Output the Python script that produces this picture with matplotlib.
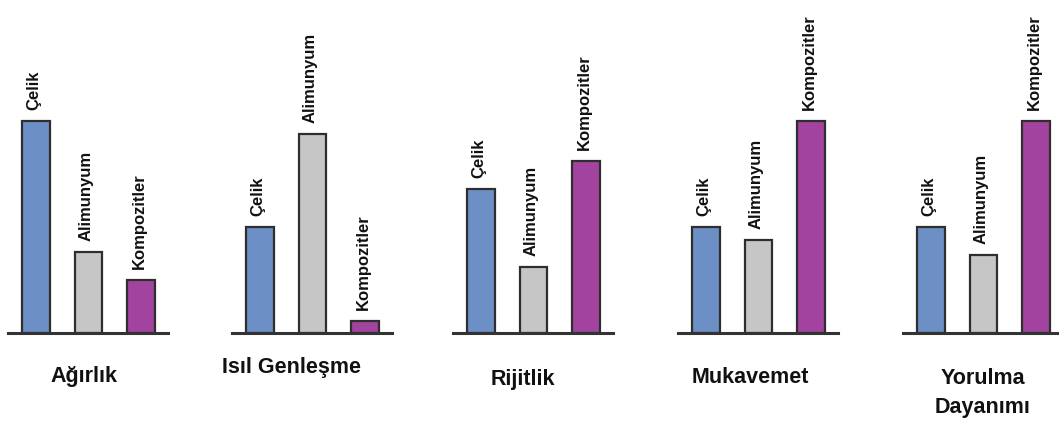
import matplotlib
matplotlib.use("Agg")
import matplotlib.pyplot as plt

plt.rcParams['font.family'] = ['Liberation Sans', 'DejaVu Sans']

# Relative property values (Çelik, Alimunyum, Kompozitler) per property
materials = ["Çelik", "Alimunyum", "Kompozitler"]
properties = ["Ağırlık", "Isıl Genleşme", "Rijitlik", "Mukavemet", "Yorulma\nDayanımı"]
agirlik = [100, 38, 25]
isil_genlesme = [50, 94, 5.7]
rijitlik = [68, 31, 81]
mukavemet = [50, 44, 100]
yorulma = [50, 37, 100]
values = [agirlik, isil_genlesme, rijitlik, mukavemet, yorulma]

colors = ["#6C8FC5", "#C6C6C6", "#A2449F"]
edge = "#2E2E2E"

W, H = 1059, 421
fig = plt.figure(figsize=(W / 100, H / 100), dpi=100)

# panel layout in pixels
panel_left = [8, 232, 453, 678, 903]
panel_width = 160
base_y = 88            # baseline height from figure bottom
px_per_unit = 2.12     # bar pixels per value unit
title_baseline = [382, 373, 385, 383, 413]   # from top (last line)
title_x = [84, 291, 523, 750, 983]

for i, (prop, vals) in enumerate(zip(properties, values)):
    ax = fig.add_axes([panel_left[i] / W, base_y / H, panel_width / W, (H - base_y) / H])
    ax.set_xlim(-0.53, 2.51)
    ax.set_ylim(0, (H - base_y) / px_per_unit)
    ax.bar(range(3), vals, width=0.52, color=colors, edgecolor=edge,
           linewidth=1.6, clip_on=False, zorder=2)
    for j, (m, v) in enumerate(zip(materials, vals)):
        ax.text(j - 0.04, v + 11 / px_per_unit, m, rotation=90, ha='center', va='bottom',
                fontsize=12, fontweight='bold', color='#111111', zorder=3)
    for s in ['top', 'right', 'left']:
        ax.spines[s].set_visible(False)
    ax.spines['bottom'].set_linewidth(2.2)
    ax.spines['bottom'].set_color('#333333')
    ax.spines['bottom'].set_zorder(4)
    ax.set_xticks([])
    ax.set_yticks([])
    ax.patch.set_alpha(0)

    fig.text(title_x[i] / W, 1 - title_baseline[i] / H, prop, ha='center', va='baseline',
             fontsize=15.5, fontweight='bold', color='#111111', linespacing=1.5)

fig.savefig("out.png", dpi=100, facecolor='white')
